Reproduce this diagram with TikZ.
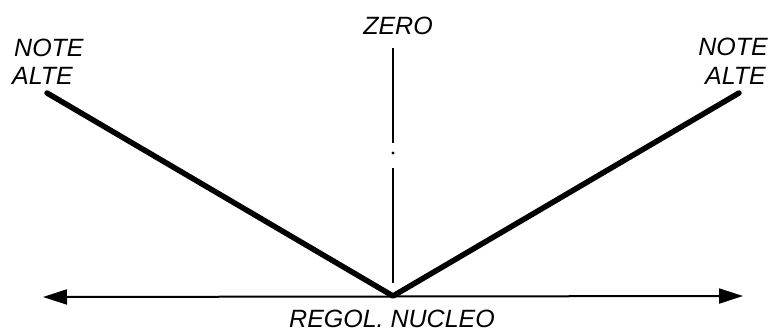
\documentclass[tikz,border=0pt]{standalone}
\usepackage{fontspec}
\setmainfont{Liberation Sans}
\usetikzlibrary{arrows.meta}
\begin{document}
\begin{tikzpicture}[x=1pt,y=-1pt,
  lbl/.style={inner sep=0pt,font=\fontsize{25}{28}\selectfont\itshape},
  thinline/.style={line width=1.8pt},
  vline/.style={line width=5.5pt,line cap=round,line join=round},
  axisline/.style={line width=2pt,{Triangle[length=24pt,width=15pt]}-{Triangle[length=24pt,width=15pt]}}]
\useasboundingbox (0,0) rectangle (773,331);
% coordinates
\coordinate (lt) at (47,93);
\coordinate (v) at (393,296);
\coordinate (rt) at (739,93);
\coordinate (al) at (43,297);
\coordinate (ar) at (743,296);
\coordinate (z1) at (393,48);
\coordinate (z2) at (393,143);
\coordinate (zd) at (393,153);
\coordinate (z3) at (393,168);
\coordinate (z4) at (393,283);
% axis
\draw[axisline] (al) -- (ar);
% zero line
\draw[thinline] (z1) -- (z2);
\fill (zd) circle (1.6pt);
\draw[thinline] (z3) -- (z4);
% V
\draw[vline] (lt) -- (v) -- (rt);
% labels
\node[lbl,anchor=base] (zero) at (398,35) {ZERO};
\node[lbl,anchor=base west] (nl1) at (14,57) {NOTE};
\node[lbl,anchor=base west] (nl2) at (12,85) {ALTE};
\node[lbl,anchor=base east] (nr1) at (768,56) {NOTE};
\node[lbl,anchor=base east] (nr2) at (766,85) {ALTE};
\node[lbl,anchor=base] (reg) at (392,327) {REGOL. NUCLEO};
\end{tikzpicture}
\end{document}
